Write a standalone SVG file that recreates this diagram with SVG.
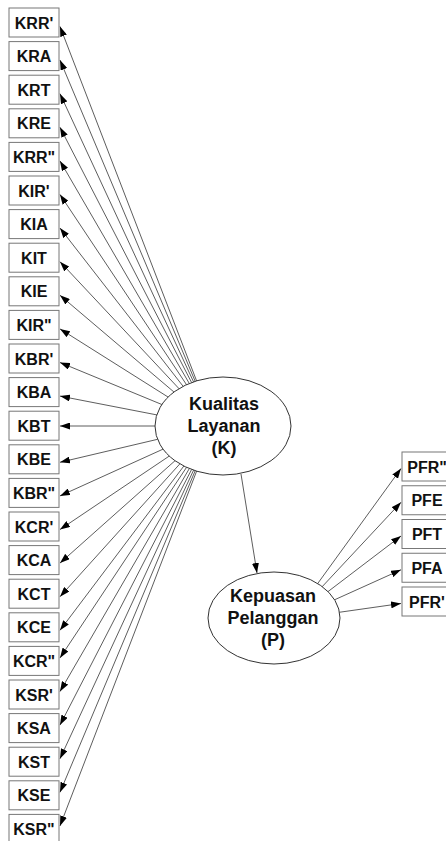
<svg xmlns="http://www.w3.org/2000/svg" width="446" height="841" viewBox="0 0 446 841">
<defs>
<marker id="ah" viewBox="0 0 10 7" refX="10" refY="3.5" markerWidth="10" markerHeight="7" markerUnits="userSpaceOnUse" orient="auto">
<path d="M0,0 L10,3.5 L0,7 z" fill="#000"/>
</marker>
<style>
.box{fill:#fff;stroke:#777;stroke-width:1}
.ell{fill:#fff;stroke:#333;stroke-width:1}
.lbl{font-family:"Liberation Sans",Arial,sans-serif;font-weight:bold;font-size:16px;fill:#111;text-anchor:middle}
.elbl{font-family:"Liberation Sans",Arial,sans-serif;font-weight:bold;font-size:18px;fill:#111;text-anchor:middle}
.con line{stroke:#333;stroke-width:0.8;marker-end:url(#ah)}
</style>
</defs>
<rect width="446" height="841" fill="#fff"/>
<g id="connectors" class="con">
<line x1="214" y1="426" x2="60" y2="26.5"/>
<line x1="214" y1="426" x2="60" y2="60.1"/>
<line x1="214" y1="426" x2="60" y2="93.7"/>
<line x1="214" y1="426" x2="60" y2="127.3"/>
<line x1="214" y1="426" x2="60" y2="160.9"/>
<line x1="214" y1="426" x2="60" y2="194.5"/>
<line x1="214" y1="426" x2="60" y2="228.1"/>
<line x1="214" y1="426" x2="60" y2="261.7"/>
<line x1="214" y1="426" x2="60" y2="295.3"/>
<line x1="214" y1="426" x2="60" y2="328.9"/>
<line x1="214" y1="426" x2="60" y2="362.5"/>
<line x1="214" y1="426" x2="60" y2="396.1"/>
<line x1="214" y1="426" x2="60" y2="426"/>
<line x1="214" y1="426" x2="60" y2="462.3"/>
<line x1="214" y1="426" x2="60" y2="495.9"/>
<line x1="214" y1="426" x2="60" y2="529.5"/>
<line x1="214" y1="426" x2="60" y2="563.1"/>
<line x1="214" y1="426" x2="60" y2="596.7"/>
<line x1="214" y1="426" x2="60" y2="630.3"/>
<line x1="214" y1="426" x2="60" y2="657.9"/>
<line x1="214" y1="426" x2="60" y2="691.5"/>
<line x1="214" y1="426" x2="60" y2="725.1"/>
<line x1="214" y1="426" x2="60" y2="758.7"/>
<line x1="214" y1="426" x2="60" y2="792.3"/>
<line x1="214" y1="426" x2="60" y2="825.9"/>
<line x1="241" y1="474" x2="257" y2="573"/>
<line x1="292" y1="619" x2="401" y2="468.5"/>
<line x1="292" y1="619" x2="401" y2="502.3"/>
<line x1="292" y1="619" x2="401" y2="536"/>
<line x1="292" y1="619" x2="401" y2="569.8"/>
<line x1="292" y1="619" x2="401" y2="603.5"/>
</g>
<g id="K"><ellipse class="ell" cx="223" cy="426" rx="68" ry="49"/><text class="elbl" x="224" y="410">Kualitas</text><text class="elbl" x="224" y="432">Layanan</text><text class="elbl" x="224" y="454">(K)</text></g>
<g id="P"><ellipse class="ell" cx="274" cy="618" rx="66" ry="46"/><text class="elbl" x="273" y="602">Kepuasan</text><text class="elbl" x="273" y="624">Pelanggan</text><text class="elbl" x="273" y="646">(P)</text></g>
<g id="KRR1"><rect class="box" x="9" y="8" width="50" height="29"/><text class="lbl" x="34" y="28.5">KRR'</text></g>
<g id="KRA"><rect class="box" x="9" y="41.6" width="50" height="29"/><text class="lbl" x="34" y="62.1">KRA</text></g>
<g id="KRT"><rect class="box" x="9" y="75.2" width="50" height="29"/><text class="lbl" x="34" y="95.7">KRT</text></g>
<g id="KRE"><rect class="box" x="9" y="108.8" width="50" height="29"/><text class="lbl" x="34" y="129.3">KRE</text></g>
<g id="KRR2"><rect class="box" x="9" y="142.4" width="50" height="29"/><text class="lbl" x="34" y="162.9">KRR"</text></g>
<g id="KIR1"><rect class="box" x="9" y="176" width="50" height="29"/><text class="lbl" x="34" y="196.5">KIR'</text></g>
<g id="KIA"><rect class="box" x="9" y="209.6" width="50" height="29"/><text class="lbl" x="34" y="230.1">KIA</text></g>
<g id="KIT"><rect class="box" x="9" y="243.2" width="50" height="29"/><text class="lbl" x="34" y="263.7">KIT</text></g>
<g id="KIE"><rect class="box" x="9" y="276.8" width="50" height="29"/><text class="lbl" x="34" y="297.3">KIE</text></g>
<g id="KIR2"><rect class="box" x="9" y="310.4" width="50" height="29"/><text class="lbl" x="34" y="330.9">KIR"</text></g>
<g id="KBR1"><rect class="box" x="9" y="344" width="50" height="29"/><text class="lbl" x="34" y="364.5">KBR'</text></g>
<g id="KBA"><rect class="box" x="9" y="377.6" width="50" height="29"/><text class="lbl" x="34" y="398.1">KBA</text></g>
<g id="KBT"><rect class="box" x="9" y="411.2" width="50" height="29"/><text class="lbl" x="34" y="431.7">KBT</text></g>
<g id="KBE"><rect class="box" x="9" y="444.8" width="50" height="29"/><text class="lbl" x="34" y="465.3">KBE</text></g>
<g id="KBR2"><rect class="box" x="9" y="478.4" width="50" height="29"/><text class="lbl" x="34" y="498.9">KBR"</text></g>
<g id="KCR1"><rect class="box" x="9" y="512" width="50" height="29"/><text class="lbl" x="34" y="532.5">KCR'</text></g>
<g id="KCA"><rect class="box" x="9" y="545.6" width="50" height="29"/><text class="lbl" x="34" y="566.1">KCA</text></g>
<g id="KCT"><rect class="box" x="9" y="579.2" width="50" height="29"/><text class="lbl" x="34" y="599.7">KCT</text></g>
<g id="KCE"><rect class="box" x="9" y="612.8" width="50" height="29"/><text class="lbl" x="34" y="633.3">KCE</text></g>
<g id="KCR2"><rect class="box" x="9" y="646.4" width="50" height="29"/><text class="lbl" x="34" y="666.9">KCR"</text></g>
<g id="KSR1"><rect class="box" x="9" y="680" width="50" height="29"/><text class="lbl" x="34" y="700.5">KSR'</text></g>
<g id="KSA"><rect class="box" x="9" y="713.6" width="50" height="29"/><text class="lbl" x="34" y="734.1">KSA</text></g>
<g id="KST"><rect class="box" x="9" y="747.2" width="50" height="29"/><text class="lbl" x="34" y="767.7">KST</text></g>
<g id="KSE"><rect class="box" x="9" y="780.8" width="50" height="29"/><text class="lbl" x="34" y="801.3">KSE</text></g>
<g id="KSR2"><rect class="box" x="9" y="814.4" width="50" height="29"/><text class="lbl" x="34" y="834.9">KSR"</text></g>
<g id="PFR2"><rect class="box" x="402" y="452" width="50" height="29"/><text class="lbl" x="427" y="472.5">PFR"</text></g>
<g id="PFE"><rect class="box" x="402" y="485.75" width="50" height="29"/><text class="lbl" x="427" y="506.25">PFE</text></g>
<g id="PFT"><rect class="box" x="402" y="519.5" width="50" height="29"/><text class="lbl" x="427" y="540">PFT</text></g>
<g id="PFA"><rect class="box" x="402" y="553.25" width="50" height="29"/><text class="lbl" x="427" y="573.75">PFA</text></g>
<g id="PFR1"><rect class="box" x="402" y="587" width="50" height="29"/><text class="lbl" x="427" y="607.5">PFR'</text></g>
</svg>
